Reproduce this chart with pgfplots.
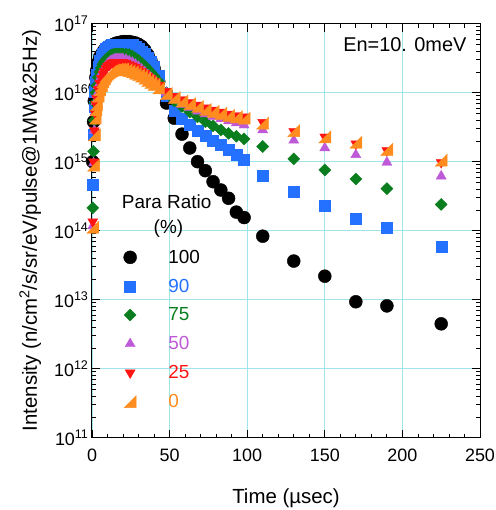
\documentclass[border=0pt]{standalone}
\usepackage{fontspec}
\setmainfont{Liberation Sans}
\usepackage{pgfplots}
\usepackage{pgfplotstable}
\pgfplotsset{compat=1.18}
\definecolor{cBlue}{RGB}{36,112,255}
\definecolor{cGreen}{RGB}{10,125,30}
\definecolor{cPurple}{RGB}{190,90,215}
\definecolor{cRed}{RGB}{255,20,20}
\definecolor{cOrange}{RGB}{255,140,30}
\definecolor{cGrid}{RGB}{160,228,235}
\pgfdeclareplotmark{rdiamond}{%
  \pgfpathmoveto{\pgfqpoint{0pt}{\pgfplotmarksize}}%
  \pgfpathlineto{\pgfqpoint{\pgfplotmarksize}{0pt}}%
  \pgfpathlineto{\pgfqpoint{0pt}{-\pgfplotmarksize}}%
  \pgfpathlineto{\pgfqpoint{-\pgfplotmarksize}{0pt}}%
  \pgfpathclose\pgfusepathqfillstroke}
\pgfdeclareplotmark{rtri}{%
  \pgfpathmoveto{\pgfqpoint{-\pgfplotmarksize}{-\pgfplotmarksize}}%
  \pgfpathlineto{\pgfqpoint{\pgfplotmarksize}{-\pgfplotmarksize}}%
  \pgfpathlineto{\pgfqpoint{\pgfplotmarksize}{\pgfplotmarksize}}%
  \pgfpathclose\pgfusepathqfillstroke}
\pgfplotstableread{
t bk bu gr pu rd or
0.5 1.00e15 4.57e14 2.14e14 1.17e14 1.35e14 1.12e14
1 3.80e15 2.45e15 1.41e15 9.55e14 1.00e15 8.91e14
1.5 7.59e15 6.31e15 3.98e15 2.82e15 2.82e15 2.45e15
2 1.20e16 1.05e16 7.08e15 5.25e15 5.01e15 4.27e15
2.5 1.66e16 1.45e16 1.00e16 7.41e15 6.76e15 5.62e15
3 2.09e16 1.82e16 1.26e16 9.33e15 8.32e15 6.76e15
4 2.75e16 2.40e16 1.66e16 1.26e16 1.12e16 8.91e15
5 3.31e16 2.88e16 2.00e16 1.58e16 1.38e16 1.10e16
6 3.55e16 3.31e16 2.29e16 1.86e16 1.62e16 1.26e16
7 3.89e16 3.72e16 2.57e16 2.09e16 1.86e16 1.45e16
8 4.17e16 3.98e16 2.82e16 2.29e16 2.04e16 1.58e16
9 4.37e16 4.27e16 3.02e16 2.45e16 2.24e16 1.74e16
10 4.57e16 4.47e16 3.16e16 2.63e16 2.40e16 1.86e16
11 4.68e16 4.68e16 3.31e16 2.75e16 2.51e16 1.95e16
12 4.79e16 4.79e16 3.47e16 2.88e16 2.63e16 2.04e16
13 4.90e16 4.90e16 3.55e16 2.95e16 2.69e16 2.09e16
14 5.01e16 4.90e16 3.63e16 3.02e16 2.75e16 2.14e16
15 5.13e16 5.01e16 3.63e16 3.09e16 2.75e16 2.14e16
16 5.25e16 5.01e16 3.63e16 3.09e16 2.75e16 2.19e16
17 5.25e16 5.01e16 3.63e16 3.09e16 2.75e16 2.19e16
18 5.37e16 5.01e16 3.63e16 3.09e16 2.75e16 2.19e16
19 5.37e16 5.01e16 3.63e16 3.09e16 2.75e16 2.19e16
20 5.50e16 5.01e16 3.63e16 3.09e16 2.75e16 2.19e16
22 5.50e16 5.01e16 3.63e16 3.02e16 2.69e16 2.14e16
24 5.50e16 5.01e16 3.55e16 2.88e16 2.57e16 2.09e16
26 5.37e16 4.90e16 3.39e16 2.75e16 2.45e16 2.00e16
28 5.25e16 4.68e16 3.16e16 2.57e16 2.34e16 1.91e16
30 5.01e16 4.37e16 2.95e16 2.40e16 2.19e16 1.82e16
32 4.68e16 3.98e16 2.69e16 2.19e16 2.04e16 1.74e16
34 4.17e16 3.63e16 2.45e16 2.00e16 1.91e16 1.62e16
36 3.55e16 3.24e16 2.19e16 1.82e16 1.74e16 1.51e16
38 2.88e16 2.82e16 1.95e16 1.66e16 1.62e16 1.41e16
40 2.24e16 2.40e16 1.74e16 1.51e16 1.48e16 1.32e16
43 1.45e16 1.78e16 1.45e16 1.29e16 1.29e16 1.17e16
48 7.08e15 8.91e15 1.00e16 1.00e16 1.05e16 9.77e15
53 4.27e15 5.50e15 7.59e15 7.94e15 8.91e15 8.51e15
58 2.51e15 4.17e15 6.31e15 6.76e15 7.94e15 7.59e15
63 1.58e15 3.39e15 5.25e15 6.03e15 7.24e15 6.92e15
68 1.00e15 2.82e15 4.47e15 5.37e15 6.61e15 6.31e15
73 7.41e14 2.40e15 3.80e15 4.90e15 6.03e15 5.75e15
78 5.13e14 2.04e15 3.31e15 4.47e15 5.62e15 5.37e15
83 3.89e14 1.74e15 2.88e15 4.17e15 5.25e15 5.01e15
88 2.95e14 1.48e15 2.57e15 3.89e15 4.90e15 4.68e15
93 1.86e14 1.26e15 2.34e15 3.63e15 4.68e15 4.47e15
98 1.55e14 1.07e15 2.14e15 3.39e15 4.47e15 4.27e15
110 8.32e13 6.17e14 1.66e15 2.88e15 3.72e15 3.63e15
130 3.63e13 3.63e14 1.10e15 2.04e15 2.75e15 2.82e15
150 2.19e13 2.29e14 7.59e14 1.58e15 2.29e15 2.29e15
170 9.33e12 1.48e14 5.62e14 1.26e15 1.82e15 1.91e15
190 8.13e12 1.12e14 4.07e14 9.77e14 1.45e15 1.51e15
225 4.47e12 5.89e13 2.40e14 6.17e14 9.77e14 1.05e15
}\data
\begin{document}
\begin{tikzpicture}
\begin{axis}[name=ax, scale only axis, width=388bp, height=414bp,
  xmin=0, xmax=250, ymode=log, ymin=1e11, ymax=1e17,
  xtick={0,50,100,150,200,250}, minor x tick num=4,
  ytick={1e11,1e12,1e13,1e14,1e15,1e16,1e17},
  yticklabels={10\textsuperscript{11},10\textsuperscript{12},10\textsuperscript{13},10\textsuperscript{14},10\textsuperscript{15},10\textsuperscript{16},10\textsuperscript{17}},
  grid=major, major grid style={cGrid, line width=0.9bp},
  tick style={black, line width=0.8bp}, major tick length=8bp, minor tick length=4bp,
  axis line style={line width=1bp},
  tick label style={font=\fontsize{18}{20}\selectfont},
  xticklabel style={yshift=-8bp},
  label style={font=\fontsize{20.5}{24}\selectfont},
  xlabel style={yshift=-20bp},
  ylabel style={yshift=6bp},
  /pgf/number format/assume math mode=true,
  xlabel={Time (µsec)},
  ylabel={Intensity (n/cm\textsuperscript{2}/s/sr/eV/pulse@1MW\&25Hz)},
  clip=false,
  legend cell align=left,
  legend image code/.code={\path (-8bp,0bp) (36bp,0bp); \draw[#1] plot coordinates {(0bp,0bp)};},
  legend style={at={(0.069,0.4635)}, anchor=north west, draw=none, fill=none,
    font=\fontsize{19}{22}\selectfont, row sep=10.2bp},
]
\addplot[only marks, mark=*, mark size=6.5bp, black] table[x=t,y=bk]{\data};
\addlegendentry{100}
\addplot[only marks, mark=square*, mark size=5.5bp, cBlue] table[x=t,y=bu]{\data};
\addlegendentry{\textcolor{cBlue}{90}}
\addplot[only marks, mark=rdiamond, mark size=6bp, cGreen] table[x=t,y=gr]{\data};
\addlegendentry{\textcolor{cGreen}{75}}
\addplot[only marks, mark=triangle*, mark size=5.8bp, cPurple] table[x=t,y=pu]{\data};
\addlegendentry{\textcolor{cPurple}{50}}
\addplot[only marks, mark=triangle*, mark size=5.8bp, mark options={rotate=180}, cRed] table[x=t,y=rd]{\data};
\addlegendentry{\textcolor{cRed}{25}}
\addplot[only marks, mark=rtri, mark size=6bp, cOrange] table[x=t,y=or]{\data};
\addlegendentry{\textcolor{cOrange}{0}}
\node[font=\fontsize{19}{22}\selectfont] at (rel axis cs:0.1925,0.570) {Para Ratio};
\node[font=\fontsize{19}{22}\selectfont] at (rel axis cs:0.197,0.506) {(\%)};
\node[anchor=east, font=\fontsize{20}{24}\selectfont] at (rel axis cs:0.974,0.9486) {En=10. 0meV};
\end{axis}
\pgfresetboundingbox
\path[use as bounding box] ([shift={(-92bp,-72.3bp)}]ax.south west) rectangle ([shift={(16bp,23.7bp)}]ax.north east);
\end{tikzpicture}
\end{document}
